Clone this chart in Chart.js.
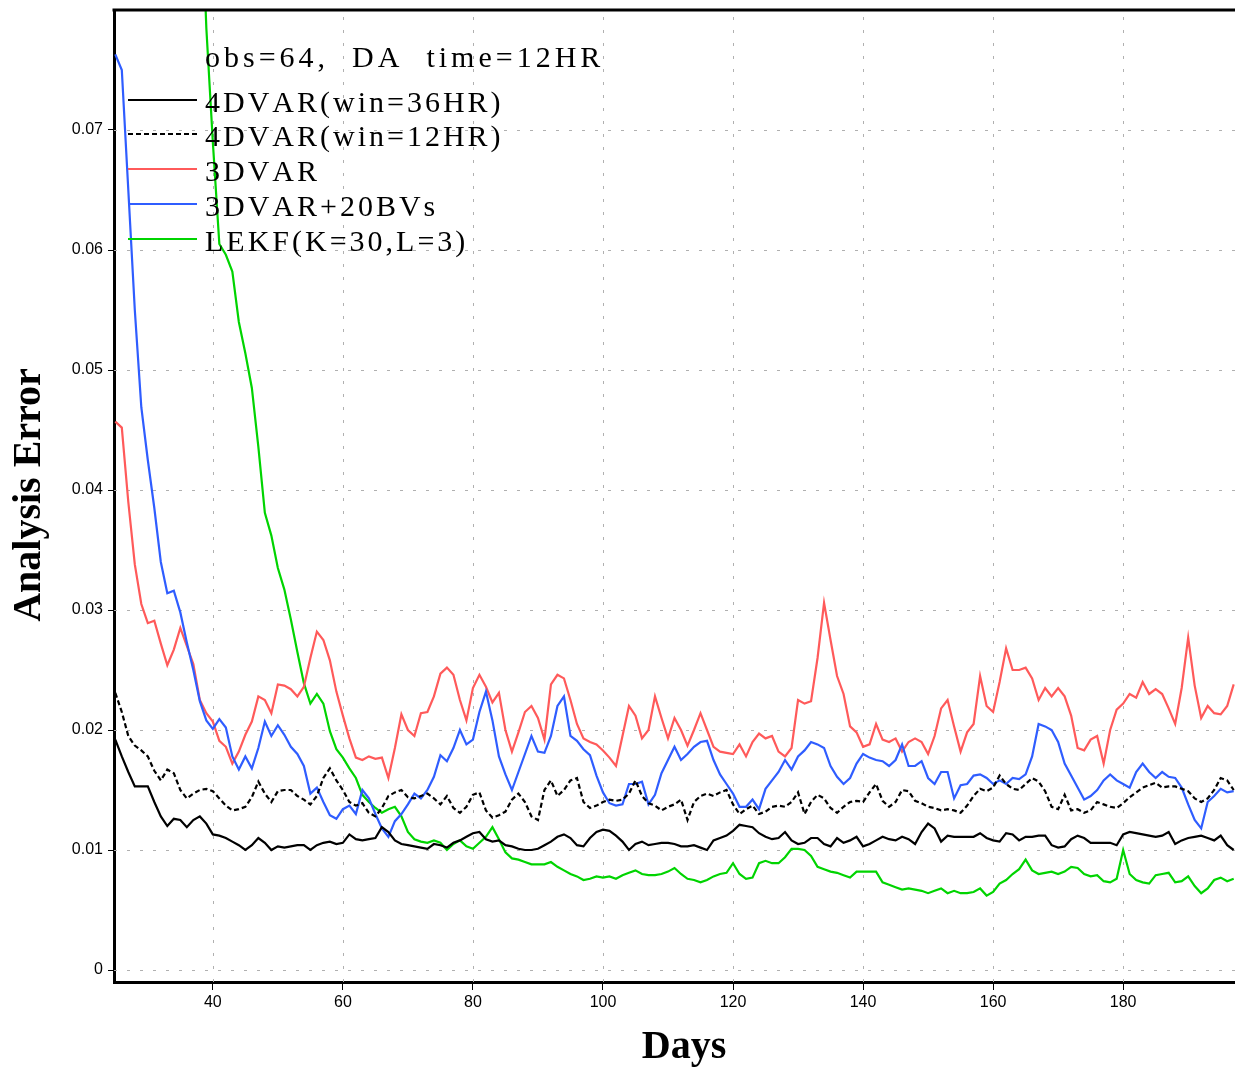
<!DOCTYPE html>
<html>
<head>
<meta charset="utf-8">
<script src="https://cdn.jsdelivr.net/npm/chart.js@4.4.1/dist/chart.umd.min.js"></script>
<style>
  html, body { margin: 0; padding: 0; background: #fff; }
  #wrap { width: 1235px; height: 1068px; }
</style>
</head>
<body>
<div id="wrap"><canvas id="errChart" width="1235" height="1068"></canvas></div>
<script>
// --- Data (one value per day) ---
const days = [
  25, 26, 27, 28, 29, 30, 31, 32, 33, 34, 35, 36, 37, 38, 39, 40, 41, 42, 43, 44,
  45, 46, 47, 48, 49, 50, 51, 52, 53, 54, 55, 56, 57, 58, 59, 60, 61, 62, 63, 64,
  65, 66, 67, 68, 69, 70, 71, 72, 73, 74, 75, 76, 77, 78, 79, 80, 81, 82, 83, 84,
  85, 86, 87, 88, 89, 90, 91, 92, 93, 94, 95, 96, 97, 98, 99, 100, 101, 102, 103, 104,
  105, 106, 107, 108, 109, 110, 111, 112, 113, 114, 115, 116, 117, 118, 119, 120, 121, 122, 123, 124,
  125, 126, 127, 128, 129, 130, 131, 132, 133, 134, 135, 136, 137, 138, 139, 140, 141, 142, 143, 144,
  145, 146, 147, 148, 149, 150, 151, 152, 153, 154, 155, 156, 157, 158, 159, 160, 161, 162, 163, 164,
  165, 166, 167, 168, 169, 170, 171, 172, 173, 174, 175, 176, 177, 178, 179, 180, 181, 182, 183, 184,
  185, 186, 187, 188, 189, 190, 191, 192, 193, 194, 195, 196, 197
];

// 4DVAR(win=36HR)
const var4dWin36 = [
  0.0192, 0.0178, 0.0165, 0.0153, 0.0153, 0.0153, 0.0140, 0.0128, 0.0120, 0.0126,
  0.0125, 0.0119, 0.0125, 0.0128, 0.0122, 0.0113, 0.0112, 0.0110, 0.0107, 0.0104,
  0.0100, 0.0104, 0.0110, 0.0106, 0.0100, 0.0103, 0.0102, 0.0103, 0.0104, 0.0104,
  0.0100, 0.0104, 0.0106, 0.0107, 0.0105, 0.0106, 0.0113, 0.0109, 0.0108, 0.0109,
  0.0110, 0.0119, 0.0115, 0.0108, 0.0105, 0.0104, 0.0103, 0.0102, 0.0101, 0.0105,
  0.0104, 0.0102, 0.0106, 0.0108, 0.0111, 0.0114, 0.0115, 0.0109, 0.0107, 0.0108,
  0.0104, 0.0103, 0.0101, 0.0100, 0.0100, 0.0101, 0.0104, 0.0107, 0.0111, 0.0113,
  0.0110, 0.0104, 0.0103, 0.0110, 0.0115, 0.0117, 0.0116, 0.0112, 0.0107, 0.0100,
  0.0105, 0.0107, 0.0104, 0.0105, 0.0106, 0.0106, 0.0105, 0.0103, 0.0103, 0.0104,
  0.0102, 0.0100, 0.0108, 0.0110, 0.0112, 0.0116, 0.0121, 0.0120, 0.0119, 0.0114,
  0.0111, 0.0109, 0.0110, 0.0115, 0.0108, 0.0105, 0.0106, 0.0110, 0.0110, 0.0105,
  0.0103, 0.0110, 0.0106, 0.0108, 0.0111, 0.0103, 0.0105, 0.0108, 0.0111, 0.0109,
  0.0108, 0.0111, 0.0109, 0.0105, 0.0115, 0.0122, 0.0118, 0.0107, 0.0112, 0.0111,
  0.0111, 0.0111, 0.0111, 0.0114, 0.0110, 0.0108, 0.0107, 0.0114, 0.0113, 0.0108,
  0.0111, 0.0111, 0.0112, 0.0112, 0.0104, 0.0102, 0.0103, 0.0109, 0.0112, 0.0110,
  0.0106, 0.0106, 0.0106, 0.0106, 0.0104, 0.0113, 0.0115, 0.0114, 0.0113, 0.0112,
  0.0111, 0.0112, 0.0115, 0.0105, 0.0108, 0.0110, 0.0111, 0.0112, 0.0110, 0.0108,
  0.0112, 0.0104, 0.0100
];

// 4DVAR(win=12HR)
const var4dWin12 = [
  0.0231, 0.0215, 0.0195, 0.0187, 0.0183, 0.0178, 0.0166, 0.0158, 0.0167, 0.0164,
  0.0150, 0.0143, 0.0147, 0.0150, 0.0151, 0.0149, 0.0143, 0.0137, 0.0133, 0.0134,
  0.0136, 0.0144, 0.0157, 0.0147, 0.0140, 0.0149, 0.0150, 0.0150, 0.0145, 0.0142,
  0.0138, 0.0145, 0.0160, 0.0168, 0.0158, 0.0150, 0.0140, 0.0137, 0.0139, 0.0131,
  0.0128, 0.0135, 0.0145, 0.0148, 0.0150, 0.0144, 0.0143, 0.0145, 0.0147, 0.0143,
  0.0138, 0.0145, 0.0135, 0.0131, 0.0136, 0.0146, 0.0148, 0.0133, 0.0127, 0.0129,
  0.0132, 0.0142, 0.0147, 0.0140, 0.0128, 0.0125, 0.0150, 0.0158, 0.0145, 0.0150,
  0.0158, 0.0160, 0.0140, 0.0135, 0.0137, 0.0140, 0.0142, 0.0141, 0.0142, 0.0147,
  0.0158, 0.0145, 0.0139, 0.0137, 0.0133, 0.0136, 0.0138, 0.0142, 0.0125, 0.0140,
  0.0145, 0.0147, 0.0145, 0.0148, 0.0150, 0.0138, 0.0130, 0.0134, 0.0137, 0.0130,
  0.0132, 0.0136, 0.0137, 0.0136, 0.0140, 0.0148, 0.0130, 0.0140, 0.0146, 0.0143,
  0.0135, 0.0131, 0.0136, 0.0140, 0.0141, 0.0140, 0.0148, 0.0155, 0.0141, 0.0136,
  0.0140, 0.0150, 0.0149, 0.0141, 0.0139, 0.0136, 0.0135, 0.0133, 0.0134, 0.0133,
  0.0131, 0.0137, 0.0145, 0.0151, 0.0149, 0.0152, 0.0162, 0.0155, 0.0151, 0.0150,
  0.0155, 0.0160, 0.0157, 0.0149, 0.0136, 0.0134, 0.0146, 0.0133, 0.0134, 0.0131,
  0.0133, 0.0140, 0.0138, 0.0136, 0.0135, 0.0139, 0.0144, 0.0148, 0.0152, 0.0154,
  0.0156, 0.0152, 0.0153, 0.0153, 0.0151, 0.0149, 0.0143, 0.0140, 0.0143, 0.0150,
  0.0160, 0.0158, 0.0150
];

// 3DVAR
const var3d = [
  0.0457, 0.0452, 0.0390, 0.0338, 0.0305, 0.0289, 0.0291, 0.0272, 0.0254, 0.0267,
  0.0285, 0.0270, 0.0255, 0.0225, 0.0214, 0.0207, 0.0191, 0.0186, 0.0172, 0.0182,
  0.0196, 0.0207, 0.0228, 0.0225, 0.0214, 0.0238, 0.0237, 0.0234, 0.0228, 0.0236,
  0.0260, 0.0282, 0.0275, 0.0258, 0.0232, 0.0212, 0.0193, 0.0177, 0.0175, 0.0178,
  0.0176, 0.0177, 0.0160, 0.0185, 0.0213, 0.0200, 0.0195, 0.0214, 0.0215, 0.0228,
  0.0247, 0.0252, 0.0246, 0.0225, 0.0208, 0.0235, 0.0246, 0.0236, 0.0223, 0.0231,
  0.0200, 0.0182, 0.0198, 0.0215, 0.0220, 0.0210, 0.0192, 0.0238, 0.0246, 0.0243,
  0.0225, 0.0205, 0.0193, 0.0190, 0.0188, 0.0183, 0.0177, 0.0170, 0.0195, 0.0220,
  0.0212, 0.0193, 0.0200, 0.0228, 0.0210, 0.0193, 0.0210, 0.0200, 0.0187, 0.0200,
  0.0214, 0.0200, 0.0186, 0.0182, 0.0181, 0.0180, 0.0188, 0.0178, 0.0190, 0.0197,
  0.0193, 0.0195, 0.0182, 0.0178, 0.0185, 0.0225, 0.0222, 0.0224, 0.0260, 0.0306,
  0.0275, 0.0245, 0.0230, 0.0203, 0.0198, 0.0186, 0.0188, 0.0205, 0.0192, 0.0190,
  0.0193, 0.0182, 0.0190, 0.0193, 0.0190, 0.0180, 0.0195, 0.0218, 0.0225, 0.0203,
  0.0182, 0.0198, 0.0205, 0.0245, 0.0220, 0.0215, 0.0240, 0.0268, 0.0250, 0.0250,
  0.0252, 0.0243, 0.0225, 0.0235, 0.0228, 0.0235, 0.0228, 0.0212, 0.0185, 0.0183,
  0.0192, 0.0195, 0.0172, 0.0200, 0.0217, 0.0222, 0.0230, 0.0227, 0.0240, 0.0230,
  0.0234, 0.0230, 0.0218, 0.0205, 0.0235, 0.0277, 0.0237, 0.0210, 0.0220, 0.0214,
  0.0213, 0.0220, 0.0238
];

// 3DVAR+20BVs
const var3dBv = [
  0.0763, 0.0750, 0.0650, 0.0550, 0.0469, 0.0425, 0.0385, 0.0340, 0.0314, 0.0316,
  0.0298, 0.0273, 0.0250, 0.0224, 0.0208, 0.0201, 0.0209, 0.0202, 0.0178, 0.0167,
  0.0178, 0.0168, 0.0185, 0.0207, 0.0195, 0.0204, 0.0196, 0.0186, 0.0180, 0.0170,
  0.0147, 0.0152, 0.0140, 0.0129, 0.0126, 0.0134, 0.0137, 0.0130, 0.0150, 0.0143,
  0.0130, 0.0118, 0.0111, 0.0124, 0.0130, 0.0138, 0.0147, 0.0143, 0.0150, 0.0161,
  0.0179, 0.0174, 0.0185, 0.0200, 0.0188, 0.0192, 0.0215, 0.0232, 0.0208, 0.0178,
  0.0163, 0.0150, 0.0165, 0.0180, 0.0195, 0.0182, 0.0181, 0.0195, 0.0220, 0.0228,
  0.0195, 0.0191, 0.0184, 0.0179, 0.0162, 0.0148, 0.0139, 0.0137, 0.0138, 0.0155,
  0.0155, 0.0157, 0.0138, 0.0146, 0.0164, 0.0175, 0.0186, 0.0175, 0.0180, 0.0186,
  0.0190, 0.0191, 0.0175, 0.0163, 0.0155, 0.0147, 0.0136, 0.0136, 0.0142, 0.0134,
  0.0151, 0.0158, 0.0165, 0.0175, 0.0167, 0.0178, 0.0183, 0.0190, 0.0188, 0.0185,
  0.0170, 0.0161, 0.0155, 0.0160, 0.0172, 0.0180, 0.0177, 0.0175, 0.0174, 0.0170,
  0.0175, 0.0188, 0.0170, 0.0170, 0.0174, 0.0160, 0.0155, 0.0165, 0.0165, 0.0143,
  0.0154, 0.0155, 0.0162, 0.0163, 0.0160, 0.0155, 0.0158, 0.0155, 0.0160, 0.0159,
  0.0163, 0.0178, 0.0205, 0.0203, 0.0200, 0.0190, 0.0172, 0.0162, 0.0152, 0.0142,
  0.0145, 0.0150, 0.0158, 0.0163, 0.0158, 0.0155, 0.0152, 0.0165, 0.0172, 0.0165,
  0.0160, 0.0165, 0.0161, 0.0160, 0.0152, 0.0138, 0.0125, 0.0118, 0.0140, 0.0145,
  0.0151, 0.0148, 0.0149
];

// LEKF(K=30,L=3) - off the top of the plot before day 38
const lekf = [
  null, null, null, null, null, null, null, null, null, null,
  null, null, null, 0.0930, 0.0785, 0.0690, 0.0605, 0.0596, 0.0582, 0.0540,
  0.0514, 0.0485, 0.0436, 0.0381, 0.0362, 0.0335, 0.0317, 0.0292, 0.0265, 0.0239,
  0.0222, 0.0230, 0.0222, 0.0199, 0.0184, 0.0177, 0.0168, 0.0160, 0.0146, 0.0140,
  0.0135, 0.0131, 0.0134, 0.0136, 0.0128, 0.0115, 0.0109, 0.0107, 0.0106, 0.0108,
  0.0106, 0.0100, 0.0105, 0.0108, 0.0103, 0.0101, 0.0106, 0.0111, 0.0119, 0.0109,
  0.0098, 0.0093, 0.0092, 0.0090, 0.0088, 0.0088, 0.0088, 0.0090, 0.0086, 0.0083,
  0.0080, 0.0078, 0.0075, 0.0076, 0.0078, 0.0077, 0.0078, 0.0076, 0.0079, 0.0081,
  0.0083, 0.0080, 0.0079, 0.0079, 0.0080, 0.0082, 0.0085, 0.0080, 0.0076, 0.0075,
  0.0073, 0.0075, 0.0078, 0.0080, 0.0081, 0.0089, 0.0080, 0.0076, 0.0077, 0.0089,
  0.0091, 0.0089, 0.0089, 0.0094, 0.0101, 0.0101, 0.0100, 0.0095, 0.0086, 0.0084,
  0.0082, 0.0081, 0.0079, 0.0077, 0.0082, 0.0082, 0.0082, 0.0082, 0.0073, 0.0071,
  0.0069, 0.0067, 0.0068, 0.0067, 0.0066, 0.0064, 0.0066, 0.0068, 0.0064, 0.0066,
  0.0064, 0.0064, 0.0065, 0.0068, 0.0062, 0.0065, 0.0072, 0.0075, 0.0080, 0.0084,
  0.0092, 0.0083, 0.0080, 0.0081, 0.0082, 0.0080, 0.0082, 0.0086, 0.0085, 0.0080,
  0.0078, 0.0079, 0.0074, 0.0073, 0.0076, 0.0100, 0.0080, 0.0075, 0.0073, 0.0072,
  0.0079, 0.0080, 0.0081, 0.0073, 0.0074, 0.0078, 0.0070, 0.0064, 0.0068, 0.0075,
  0.0077, 0.0074, 0.0076
];

const seriesNames = ["4DVAR(win=36HR)", "4DVAR(win=12HR)", "3DVAR", "3DVAR+20BVs", "LEKF(K=30,L=3)"];
const legendTitle = "obs=64,  DA  time=12HR";

const xTicks = [40, 60, 80, 100, 120, 140, 160, 180];
const xTickLabels = ["40", "60", "80", "100", "120", "140", "160", "180"];
const yTicks = [0, 0.01, 0.02, 0.03, 0.04, 0.05, 0.06, 0.07];
const yTickLabels = ["0", "0.01", "0.02", "0.03", "0.04", "0.05", "0.06", "0.07"];

// --- styles ---
const colors = ["#000000", "#000000", "#ff5a5a", "#2f5dff", "#00d400"];
const dashes = [[], [5, 3], [], [], []];
const tickFont = { family: "'Liberation Sans Narrow', 'Liberation Sans', sans-serif", size: 16 };

function points(values) {
  return days.map((d, i) => ({ x: d, y: values[i] }));
}

const allSeries = [var4dWin36, var4dWin12, var3d, var3dBv, lekf];
// draw order as in the figure: green behind, black on top
const drawOrder = [0, 1, 3, 2, 4];

const datasets = allSeries.map((vals, i) => ({
  label: seriesNames[i],
  data: points(vals),
  borderColor: colors[i],
  borderWidth: 2.2,
  borderDash: dashes[i],
  pointRadius: 0,
  tension: 0,
  spanGaps: false,
  order: drawOrder[i],
}));

// spaced-out serif text, like the original plot's font
function wideText(ctx, txt, x, y, spacing) {
  let cx = x;
  for (const ch of txt) {
    ctx.fillText(ch, cx, y);
    cx += ctx.measureText(ch).width + spacing;
  }
}

// --- dotted grid, frame, legend and axis titles ---
const decorations = {
  id: "decorations",
  beforeDatasetsDraw(chart) {
    const { ctx, chartArea: a, scales } = chart;
    ctx.save();
    ctx.strokeStyle = "#b0b0b0";
    ctx.lineWidth = 1;
    ctx.setLineDash([3, 10]);
    xTicks.forEach((v) => {
      const px = Math.round(scales.x.getPixelForValue(v)) + 0.5;
      ctx.beginPath(); ctx.moveTo(px, a.bottom); ctx.lineTo(px, a.top); ctx.stroke();
    });
    yTicks.forEach((v) => {
      const py = Math.round(scales.y.getPixelForValue(v)) + 0.5;
      ctx.beginPath(); ctx.moveTo(a.left, py); ctx.lineTo(a.right, py); ctx.stroke();
    });
    ctx.restore();
  },
  afterDatasetsDraw(chart) {
    const { ctx, chartArea: a } = chart;
    ctx.save();
    // legend (no box, drawn over the lines)
    ctx.font = "30px 'Liberation Serif', serif";
    ctx.fillStyle = "#000";
    ctx.textBaseline = "middle";
    wideText(ctx, legendTitle, 205, 59, 4);
    const rows = [100, 134, 169, 204, 239];
    seriesNames.forEach((name, i) => {
      ctx.strokeStyle = colors[i];
      ctx.lineWidth = 2;
      ctx.setLineDash(dashes[i]);
      ctx.beginPath(); ctx.moveTo(128, rows[i]); ctx.lineTo(197, rows[i]); ctx.stroke();
      ctx.setLineDash([]);
      wideText(ctx, name, 205, rows[i] + 4, 3);
    });
    // top frame line
    ctx.strokeStyle = "#000";
    ctx.lineWidth = 3;
    ctx.beginPath(); ctx.moveTo(a.left - 1.5, a.top); ctx.lineTo(a.right, a.top); ctx.stroke();
    ctx.restore();
  },
  afterDraw(chart) {
    const { ctx } = chart;
    ctx.save();
    ctx.fillStyle = "#000";
    ctx.font = "bold 40px 'Liberation Serif', serif";
    ctx.textAlign = "center";
    ctx.textBaseline = "middle";
    ctx.fillText("Days", 684, 1048);
    ctx.translate(30, 495);
    ctx.rotate(-Math.PI / 2);
    ctx.fillText("Analysis Error", 0, 0);
    ctx.restore();
  },
};

new Chart(document.getElementById("errChart"), {
  type: "line",
  data: { datasets },
  options: {
    responsive: false,
    animation: false,
    layout: { padding: { top: 10, left: 0, right: 0, bottom: 0 } },
    plugins: { legend: { display: false }, tooltip: { enabled: false } },
    scales: {
      x: {
        type: "linear",
        min: 24.8,
        max: 197.2,
        afterBuildTicks: (s) => { s.ticks = xTicks.map((v) => ({ value: v })); },
        afterFit: (s) => { s.height = 86; s.paddingLeft = 0; s.paddingRight = 0; },
        grid: { drawOnChartArea: false, color: "#000", tickLength: 8, tickWidth: 1 },
        border: { display: true, color: "#000", width: 3 },
        ticks: {
          autoSkip: false, maxRotation: 0, padding: 3, color: "#000", font: tickFont,
          callback: (v, i) => xTickLabels[i],
        },
      },
      y: {
        min: -0.001,
        max: 0.08,
        afterBuildTicks: (s) => { s.ticks = yTicks.map((v) => ({ value: v })); },
        afterFit: (s) => { s.width = 114; s.paddingTop = 0; s.paddingBottom = 0; },
        grid: { drawOnChartArea: false, color: "#000", tickLength: 6, tickWidth: 1 },
        border: { display: true, color: "#000", width: 3 },
        ticks: {
          autoSkip: false, padding: 5, color: "#000", font: tickFont,
          callback: (v, i) => yTickLabels[i],
        },
      },
    },
  },
  plugins: [decorations],
});
</script>
</body>
</html>
